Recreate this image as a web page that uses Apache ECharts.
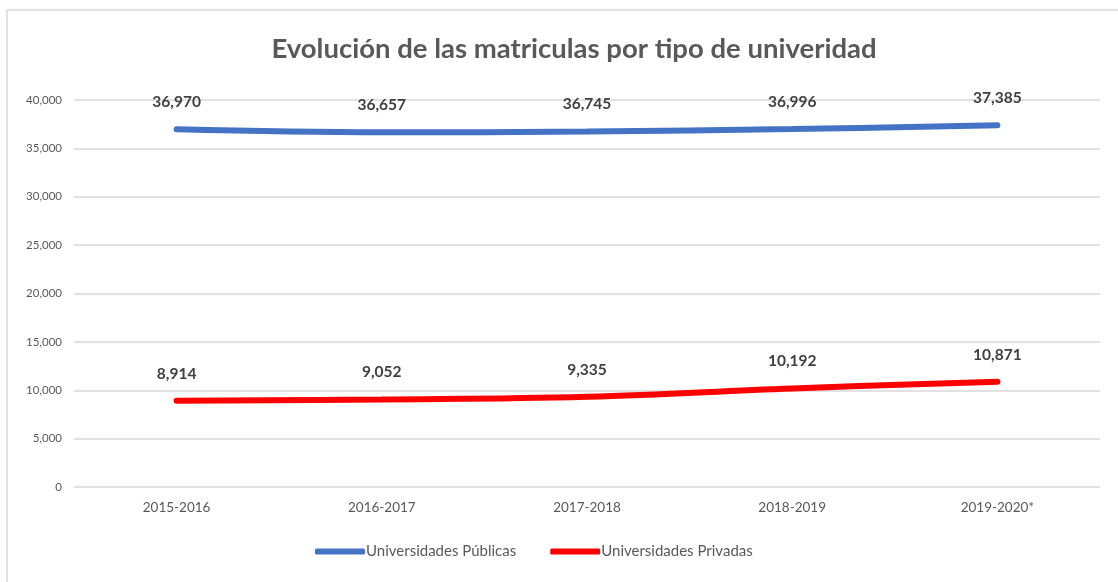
<!DOCTYPE html>
<html>
<head>
<meta charset="utf-8">
<script src="https://cdn.jsdelivr.net/npm/echarts@6/dist/echarts.min.js"></script>
<style>
html,body{margin:0;padding:0;background:#fff;}
#c{width:1118px;height:582px;}
</style>
</head>
<body>
<div id="c"></div>
<script>
const categories = ['2015-2016','2016-2017','2017-2018','2018-2019','2019-2020*'];
const publicas = [36970, 36657, 36745, 36996, 37385];
const privadas = [8914, 9052, 9335, 10192, 10871];
const seriesNames = ['Universidades Públicas','Universidades Privadas'];
const titleText = 'Evolución de las matriculas por tipo de univeridad';

const chart = echarts.init(document.getElementById('c'));
const fmt = v => v.value.toLocaleString('en-US');
const labelStyle = {
  show: true, position: 'top', distance: 19,
  fontFamily: 'Lato', fontWeight: 'bold', fontSize: 15.5, color: '#404040',
  formatter: fmt
};
chart.setOption({
  animation: false,
  graphic: [{
    type: 'rect', shape: {x: 7, y: 10, width: 1200, height: 700},
    style: {fill: 'none', stroke: '#d9d9d9', lineWidth: 1.5}, silent: true
  }],
  title: {
    text: titleText, left: 569, textAlign: 'center', top: 30,
    textStyle: {fontFamily: 'Lato', fontSize: 27.5, fontWeight: 'bold', color: '#595959'}
  },
  legend: {
    bottom: 18, left: 310, itemGap: 34, itemWidth: 50, itemHeight: 6,
    icon: 'roundRect',
    textStyle: {fontFamily: 'Lato', fontSize: 15, color: '#595959', padding: [0,0,0,-4]},
    data: seriesNames
  },
  grid: {left: 74, right: 18, top: 100, bottom: 95, containLabel: false},
  xAxis: {
    type: 'category', data: categories, boundaryGap: true,
    axisLine: {show: false}, axisTick: {show: false},
    axisLabel: {fontFamily: 'Lato', fontSize: 13.5, color: '#595959', margin: 14}
  },
  yAxis: {
    type: 'value', min: 0, max: 40000, interval: 5000,
    axisLine: {show: false}, axisTick: {show: false},
    axisLabel: {fontFamily: 'Lato', fontSize: 11.5, color: '#595959', margin: 12,
      formatter: v => v.toLocaleString('en-US')},
    splitLine: {lineStyle: {color: '#d9d9d9', width: 1.5}}
  },
  series: [
    {name: seriesNames[0], type: 'line', data: publicas, smooth: 0.4,
     showSymbol: true, symbol: 'circle', symbolSize: 0.1,
     lineStyle: {color: '#4472c4', width: 6, cap: 'round'}, itemStyle: {color: '#4472c4'},
     label: labelStyle},
    {name: seriesNames[1], type: 'line', data: privadas, smooth: 0.4,
     showSymbol: true, symbol: 'circle', symbolSize: 0.1,
     lineStyle: {color: '#ff0000', width: 6, cap: 'round'}, itemStyle: {color: '#ff0000'},
     label: labelStyle}
  ]
});
</script>
</body>
</html>
